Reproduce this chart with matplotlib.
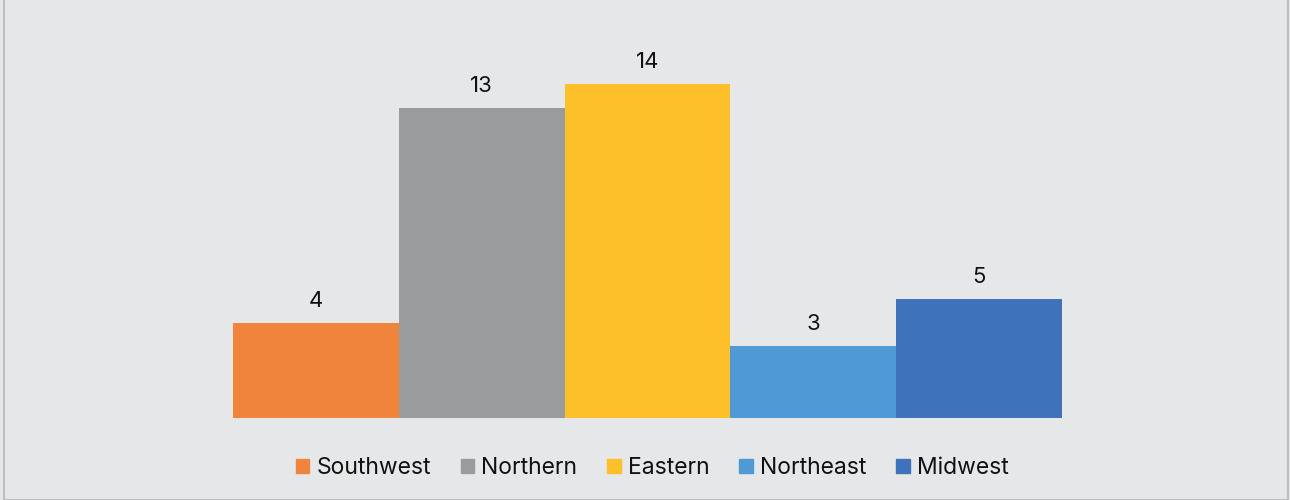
import matplotlib
matplotlib.use("Agg")
import matplotlib.pyplot as plt
from matplotlib.patches import Rectangle

regions = ["Southwest", "Northern", "Eastern", "Northeast", "Midwest"]
values = [4, 13, 14, 3, 5]
colors = ["#F0843C", "#999B9C", "#FDBF2A", "#4F9AD4", "#3E72BA"]

plt.rcParams['font.family'] = ['Inter', 'DejaVu Sans']

W, H = 1290, 500
fig = plt.figure(figsize=(W / 100, H / 100), dpi=100)
bg = "#E6E7E9"
fig.patch.set_facecolor(bg)

# border
fig.add_artist(Rectangle((4 / W, 0), (1288 - 4) / W, (496 - 4) / H + 0.02,
                         transform=fig.transFigure, fill=False,
                         edgecolor="#BDBEC0", linewidth=1.5))

left, right = 233, 1062
bottom_px, top_px = 418, 20
ax = fig.add_axes([left / W, (H - bottom_px) / H, (right - left) / W, (bottom_px - top_px) / H])
ax.set_facecolor(bg)
px_per_unit = 334 / 14
ax.set_ylim(0, (bottom_px - top_px) / px_per_unit)
ax.set_xlim(-0.5, len(values) - 0.5)

xs = list(range(len(values)))
bars = ax.bar(xs, values, width=1.0, color=colors, label=regions)
for x, v in zip(xs, values):
    ax.text(x, v + 0.5, str(v), ha="center", va="bottom", fontsize=16, color="#111111")

for s in ax.spines.values():
    s.set_visible(False)
ax.set_xticks([])
ax.set_yticks([])

handles = [Rectangle((0, 0), 1, 1, color=c) for c in colors]
fig.legend(handles, regions, loc="center", bbox_to_anchor=(652 / W, (H - 468) / H),
           ncol=5, frameon=False, fontsize=16.5, handlelength=0.6, handleheight=0.6,
           handletextpad=0.3, columnspacing=1.3, labelcolor="#111111")

fig.savefig("out.png", dpi=100, facecolor=bg)
